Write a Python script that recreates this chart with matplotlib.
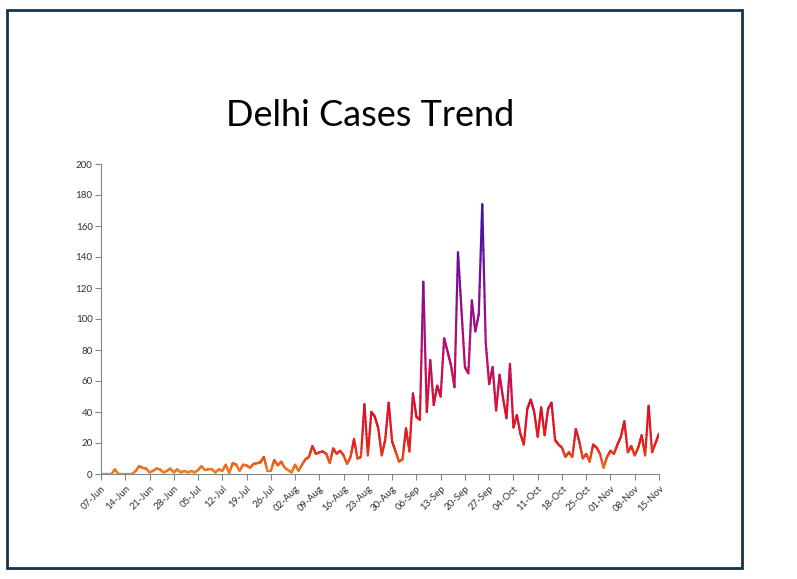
import numpy as np
import matplotlib
matplotlib.use("Agg")
import matplotlib.pyplot as plt
from matplotlib.collections import LineCollection
from matplotlib.colors import LinearSegmentedColormap
from matplotlib.patches import Rectangle
import datetime as dt

# ---- data ----
start_date = dt.date(2020, 6, 7)
cases_jun_jul = [0, 0, 0, 0, 3, 0, 0, 0, 0, 0, 2, 5, 4, 3.5, 1, 2, 3.5, 3, 1, 2,
                 3.5, 1, 3, 1, 2, 1, 2, 1, 2.5, 5, 2.5, 3, 3, 1, 3, 2]
cases_jul_sep = [6, 0.5, 7, 6, 2, 6, 5.5, 4, 6.5, 7, 7.5, 11, 2, 2, 9, 5.5, 8, 4, 2.5, 1,
                 6, 2, 6, 9.5, 11, 18, 13, 14, 14.5, 13, 7, 16.5, 13, 15, 12, 6.5, 11, 22.5, 10, 11,
                 45, 12, 40, 37, 29.5, 12, 22, 46, 21, 14.5, 8, 9.5, 29.5, 14.5, 52, 37, 35, 124, 40, 73.5,
                 44.5, 57, 50, 87.5, 79, 70, 56]
cases_sep_nov = [143, 106, 69, 65, 112, 92, 103, 174, 85, 58, 69, 41, 64, 49, 36, 71, 30, 38, 26, 19,
                 42, 48, 40, 24, 43, 25, 42, 46, 22, 19, 17, 11, 14, 11, 29, 21, 10, 13, 8, 19,
                 17, 13, 4, 11, 15, 13, 19, 24, 34, 14, 18, 12, 17, 25, 12, 44, 14, 20, 26]
cases = np.array(cases_jun_jul + cases_jul_sep + cases_sep_nov, dtype=float)
n_days = len(cases)
dates = [start_date + dt.timedelta(days=i) for i in range(n_days)]
tick_idx = list(range(0, n_days, 7))
tick_labels = [dates[i].strftime("%d-%b") for i in tick_idx]
y_ticks = list(range(0, 201, 20))
title = "Delhi Cases Trend"

# ---- figure ----
W, H = 797, 579
fig = plt.figure(figsize=(W / 100, H / 100), dpi=100)
fig.patch.set_facecolor("white")

# outer border
fig.patches.append(Rectangle((7 / W, 1 - 568 / H), (742 - 7) / W, (568 - 10) / H,
                             transform=fig.transFigure, fill=False,
                             edgecolor="#17324a", linewidth=2.0))

ax = fig.add_axes([101 / W, 1 - 474 / H, 558 / W, 310 / H])

cmap = LinearSegmentedColormap.from_list(
    "trend",
    [(0.0, "#f2861e"), (0.04, "#ec5a1e"), (0.10, "#e4221e"), (0.22, "#de1028"),
     (0.35, "#c60f58"), (0.50, "#a80e7c"), (0.68, "#800c98"), (0.82, "#5a10a0"),
     (1.0, "#2a1c9e")])
vmax = 180.0

# vertical gradient: subdivide each segment and colour by height
x = np.arange(n_days, dtype=float)
segs, cols = [], []
sub = 12
for i in range(n_days - 1):
    xs = np.linspace(x[i], x[i + 1], sub + 1)
    ys = np.linspace(cases[i], cases[i + 1], sub + 1)
    for k in range(sub):
        segs.append([(xs[k], ys[k]), (xs[k + 1], ys[k + 1])])
        cols.append(cmap(min(1.0, 0.5 * (ys[k] + ys[k + 1]) / vmax)))
lc = LineCollection(segs, colors=cols, linewidths=1.6, capstyle="round", joinstyle="round")
ax.add_collection(lc)

ax.set_xlim(0, n_days - 1)
ax.set_ylim(0, 200)
ax.set_xticks(tick_idx)
ax.set_xticklabels(tick_labels, rotation=45, ha="right", rotation_mode="anchor",
                   fontsize=7, color="#303030", family="Lato")
ax.set_yticks(y_ticks)
ax.set_yticklabels([str(v) for v in y_ticks], fontsize=7, color="#303030", family="Lato")
for s in ["top", "right"]:
    ax.spines[s].set_visible(False)
for s in ["left", "bottom"]:
    ax.spines[s].set_color("#868686")
    ax.spines[s].set_linewidth(0.8)
ax.tick_params(axis="both", direction="out", length=4, width=0.8, color="#868686", pad=2)
ax.tick_params(axis="x", pad=3)

fig.text(370 / W, 1 - 116 / H, title, ha="center", va="center",
         fontsize=26, family="Lato", color="#000000")

fig.savefig("out.png", dpi=100, facecolor="white")
